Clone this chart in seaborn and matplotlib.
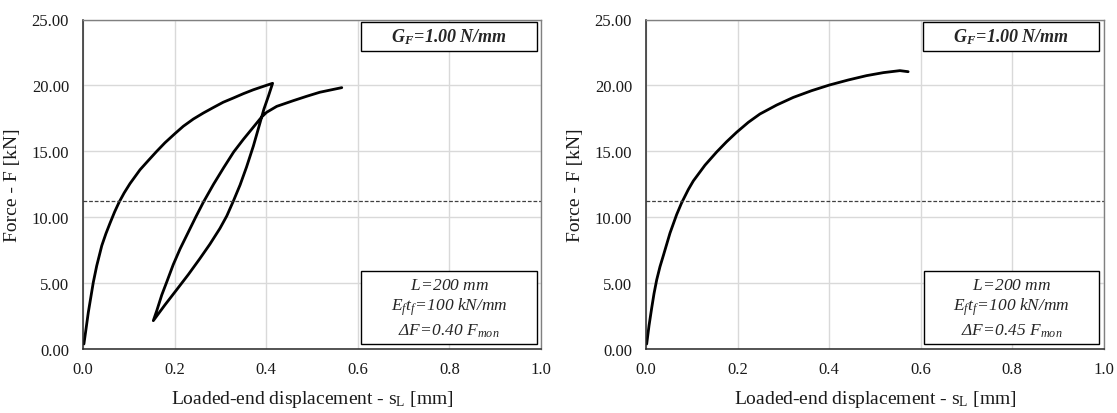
import numpy as np
import pandas as pd
import matplotlib
matplotlib.use("Agg")
import matplotlib.pyplot as plt
from matplotlib.patches import Rectangle
from matplotlib.ticker import FormatStrFormatter, MultipleLocator
import seaborn as sns

# ---------------- data ----------------
# Left panel: cyclic test (loading -> unloading -> reloading), s_L [mm], F [kN]
left_s = [0.002, 0.0066, 0.0116, 0.0225, 0.030, 0.041, 0.050, 0.059, 0.069, 0.079,
          0.090, 0.1026, 0.1245, 0.1426, 0.161, 0.179, 0.201, 0.219, 0.241, 0.263,
          0.285, 0.306, 0.328, 0.350, 0.372, 0.394, 0.414,
          0.405, 0.395, 0.386, 0.372, 0.357, 0.343, 0.328, 0.314, 0.299, 0.277,
          0.255, 0.230, 0.2046, 0.179, 0.1535,
          0.161, 0.172, 0.183, 0.197, 0.212, 0.229, 0.246, 0.263, 0.285, 0.307,
          0.329, 0.350, 0.370, 0.390, 0.401,
          0.423, 0.459, 0.488, 0.517, 0.543, 0.565]
left_F = [0.38, 1.52, 2.78, 5.06, 6.32, 7.84, 8.75, 9.55, 10.4, 11.15,
          11.85, 12.55, 13.6, 14.3, 15.0, 15.65, 16.35, 16.9, 17.45, 17.91,
          18.33, 18.72, 19.04, 19.37, 19.67, 19.93, 20.16,
          19.2, 18.2, 17.1, 15.4, 13.8, 12.45, 11.2, 10.1, 9.15, 7.95,
          6.85, 5.65, 4.5, 3.35, 2.15,
          2.9, 4.1, 5.1, 6.4, 7.6, 8.8, 10.0, 11.15, 12.5, 13.75,
          14.95, 15.9, 16.75, 17.6, 17.96,
          18.41, 18.84, 19.17, 19.48, 19.67, 19.83]

# Right panel: monotonic-like curve
right_s = [0.0015, 0.0066, 0.0124, 0.0175, 0.0234, 0.0306, 0.038, 0.0525, 0.067,
           0.078, 0.0925, 0.1034, 0.129, 0.1545, 0.176, 0.198, 0.2237, 0.249,
           0.2856, 0.322, 0.362, 0.401, 0.442, 0.482, 0.519, 0.555, 0.573]
right_F = [0.38, 1.77, 3.1, 4.2, 5.25, 6.25, 7.1, 8.8, 10.2,
           11.1, 12.1, 12.75, 13.95, 14.95, 15.72, 16.44, 17.2, 17.83,
           18.51, 19.09, 19.6, 20.03, 20.41, 20.74, 20.97, 21.12, 21.04]

threshold_F = 11.2
GF_label = r"$\mathbf{G_F\!=\!1.00\ N/mm}$"
box_lines_left = [r"$L\!=\!200\ mm$", r"$E_ft_f\!=\!100\ kN/mm$",
                  r"$\Delta F\!=\!0.40\ F_{mon}$"]
box_lines_right = [r"$L\!=\!200\ mm$", r"$E_ft_f\!=\!100\ kN/mm$",
                   r"$\Delta F\!=\!0.45\ F_{mon}$"]
xlabel = r"Loaded-end displacement - s$_\mathregular{L}$ [mm]"
ylabel = "Force - F [kN]"

# ---------------- style ----------------
sns.set_theme(style="whitegrid")
plt.rcParams['font.family'] = ['Liberation Serif', 'DejaVu Serif']
plt.rcParams['mathtext.fontset'] = 'custom'
plt.rcParams['mathtext.rm'] = 'Liberation Serif:italic'
plt.rcParams['mathtext.it'] = 'Liberation Serif:italic'
plt.rcParams['mathtext.bf'] = 'Liberation Serif:italic:bold'

W, H = 1117, 414
fig = plt.figure(figsize=(W / 100, H / 100), dpi=100)

def px_axes(x0, x1, ytop, ybot):
    return fig.add_axes([x0 / W, 1 - ybot / H, (x1 - x0) / W, (ybot - ytop) / H])

ax1 = px_axes(83, 541, 20.5, 350)
ax2 = px_axes(646, 1103.5, 20.5, 350)

def style_axis(ax, s, F, lines):
    df = pd.DataFrame({"s": s, "F": F})
    sns.lineplot(data=df, x="s", y="F", sort=False, estimator=None, ax=ax,
                 color="black", linewidth=2.0)
    for ln in ax.lines:
        ln.set_solid_joinstyle("round")
        ln.set_solid_capstyle("round")
    ax.axhline(threshold_F, color="#404040", linewidth=0.9, linestyle=(0, (3, 1.5)))
    ax.set_xlim(0, 1.0)
    ax.set_ylim(0, 25)
    ax.xaxis.set_major_locator(MultipleLocator(0.2))
    ax.yaxis.set_major_locator(MultipleLocator(5))
    ax.xaxis.set_major_formatter(FormatStrFormatter("%.1f"))
    ax.yaxis.set_major_formatter(FormatStrFormatter("%.2f"))
    ax.grid(True, color="#d9d9d9", linewidth=1.0)
    ax.set_facecolor("white")
    ax.tick_params(axis="both", length=0, labelsize=12, colors="#1a1a1a")
    ax.tick_params(axis="y", pad=10)
    ax.tick_params(axis="x", pad=9)
    for side in ["left", "bottom"]:
        ax.spines[side].set_color("#262626")
        ax.spines[side].set_linewidth(1.1)
    for side in ["top", "right"]:
        ax.spines[side].set_color("#808080")
        ax.spines[side].set_linewidth(1.0)
    ax.set_xlabel(xlabel, fontsize=14, color="#1a1a1a")
    ax.set_ylabel(ylabel, fontsize=14, color="#1a1a1a")
    ax.xaxis.set_label_coords(0.5, -0.118)
    ax.yaxis.set_label_coords(-0.136, 0.5)
    # top box
    bx0, bx1 = 0.606, 0.9906
    ax.add_patch(Rectangle((bx0, 0.905), bx1 - bx0, 0.0883, transform=ax.transAxes,
                           facecolor="white", edgecolor="black", linewidth=1.0, zorder=5))
    ax.text((bx0 + bx1) / 2, 0.949, GF_label, transform=ax.transAxes, ha="center",
            va="center", fontsize=13, zorder=6)
    # bottom box
    ax.add_patch(Rectangle((0.608, 0.0152), bx1 - 0.608, 0.2224, transform=ax.transAxes,
                           facecolor="white", edgecolor="black", linewidth=1.0, zorder=5))
    ys = [0.194, 0.131, 0.058]
    for yy, t in zip(ys, lines):
        ax.text((0.608 + bx1) / 2, yy, t, transform=ax.transAxes, ha="center",
                va="center", fontsize=12.5, zorder=6)

style_axis(ax1, left_s, left_F, box_lines_left)
style_axis(ax2, right_s, right_F, box_lines_right)

fig.savefig("out.png", dpi=100, facecolor="white")
